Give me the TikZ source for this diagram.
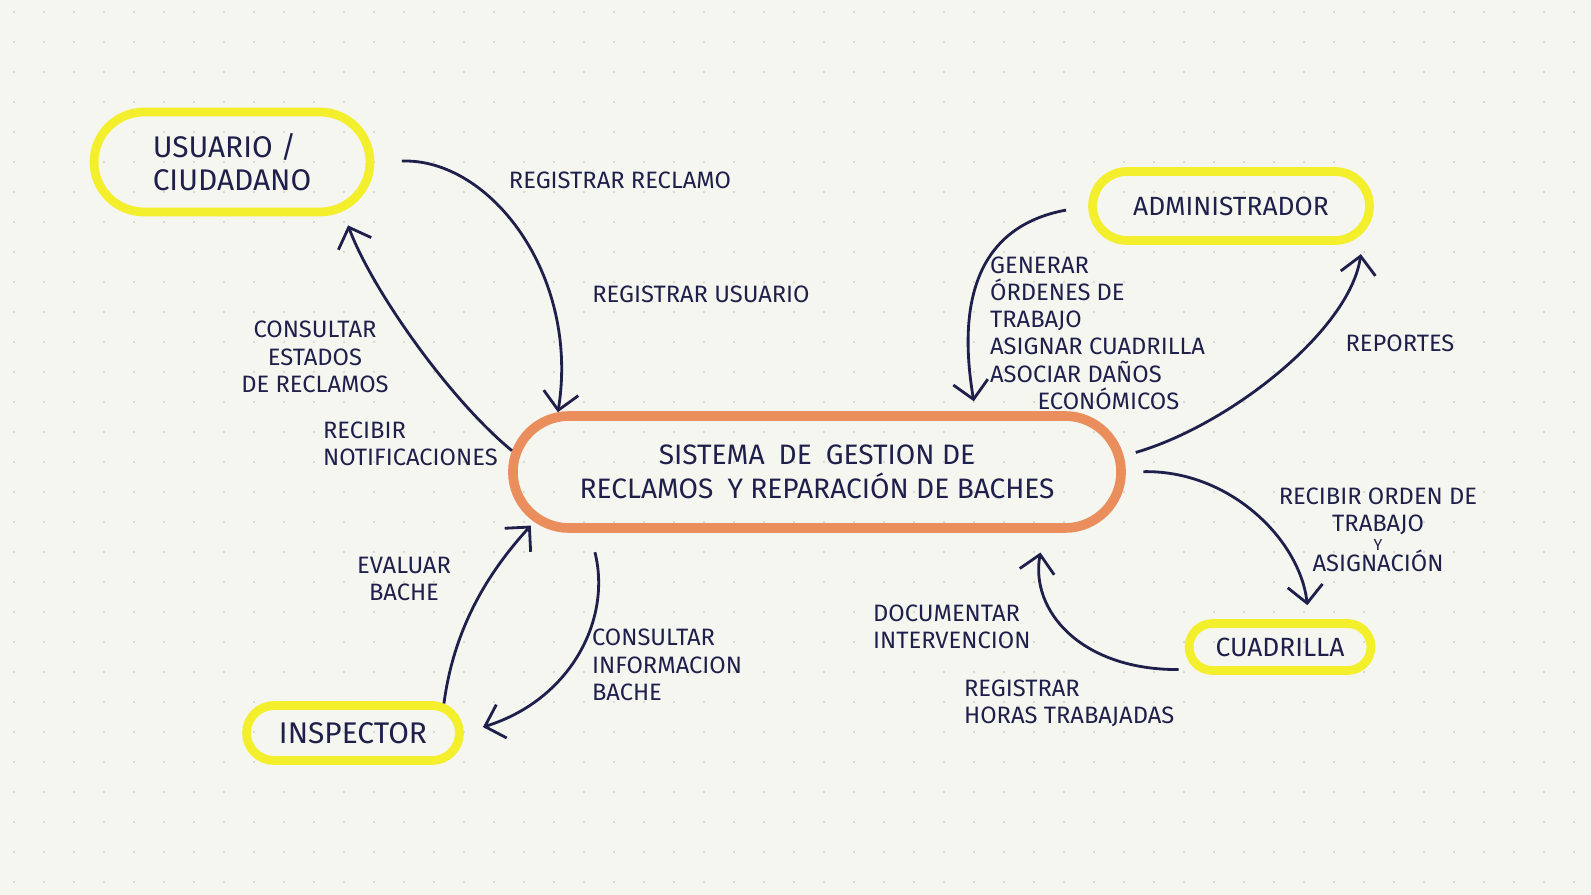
\documentclass[tikz,border=0pt]{standalone}
\usepackage{fontspec}
\setmainfont{Fira Sans}
\usetikzlibrary{arrows.meta,shapes.misc}
\definecolor{ink}{HTML}{1E1F4B}
\definecolor{hl}{HTML}{F3EF2C}
\definecolor{sysc}{HTML}{E98E5C}
\definecolor{paper}{HTML}{F6F6F0}
\definecolor{speck}{HTML}{D2D1C8}
\begin{document}
\begin{tikzpicture}[x=0.02cm,y=-0.02cm,>={Straight Barb[length=3.5mm,width=7mm]},
  every node/.style={font=\fontsize{13.5}{15.5}\selectfont,text=ink},
  actor/.style={draw=hl,line width=5pt,rounded rectangle,align=left,inner sep=4pt},
  sys/.style={draw=sysc,line width=5.5pt,rounded rectangle,align=center,font=\fontsize{16}{19}\selectfont},
  flow/.style={draw=ink,line width=1.6pt,->},
  lbl/.style={align=left,inner sep=1pt}]
\useasboundingbox (0,0) rectangle (1591,895);
\fill[paper] (0,0) rectangle (1591,895);
% dot grid of the notebook page
\foreach \i in {0,...,52}
  \foreach \j in {0,...,29}
    \fill[speck] (\i*30+14,\j*30+12) circle (0.7pt);

% actors and system
\node[actor,minimum width=5.8cm,minimum height=2cm,font=\fontsize{17}{19}\selectfont] (usr) at (232,162) {USUARIO /\\CIUDADANO};
\node[actor,minimum width=5.82cm,minimum height=1.38cm,font=\fontsize{15}{18}\selectfont] (adm) at (1231,206) {ADMINISTRADOR};
\node[sys,minimum width=12.4cm,minimum height=2.24cm] (sis) at (817,472) {SISTEMA\enspace DE\enspace GESTION DE\\RECLAMOS\enspace Y REPARACIÓN DE BACHES};
\node[actor,minimum width=4.54cm,minimum height=1.1cm,font=\fontsize{17}{19}\selectfont] (ins) at (353,733) {INSPECTOR};
\node[actor,minimum width=3.92cm,minimum height=0.94cm,font=\fontsize{15}{18}\selectfont] (cua) at (1280,647) {CUADRILLA};

% labels
\node[lbl] (l1) at (620,180) {REGISTRAR RECLAMO};
\node[lbl] (l2) at (701,294) {REGISTRAR USUARIO};
\node[lbl,align=center] (l3) at (315,357) {CONSULTAR\\ESTADOS\\DE RECLAMOS};
\node[lbl,anchor=west] (l4) at (321,444) {RECIBIR\\NOTIFICACIONES};
\node[lbl,anchor=west] (l5) at (988,333) {GENERAR\\ÓRDENES DE\\TRABAJO\\ASIGNAR CUADRILLA\\ASOCIAR DAÑOS\\\hspace*{2em}ECONÓMICOS};
\node[lbl] (l6) at (1400,343) {REPORTES};
\node[lbl,align=center] (l7) at (1378,530) {RECIBIR ORDEN DE\\TRABAJO\\[-5pt]{\fontsize{9}{9}\selectfont Y}\\[-3pt]ASIGNACIÓN};
\node[lbl,anchor=west] (l8) at (871,627) {DOCUMENTAR\\INTERVENCION};
\node[lbl,anchor=west] (l9) at (962,703) {REGISTRAR\\HORAS TRABAJADAS};
\node[lbl,align=center] (l10) at (404,579) {EVALUAR\\BACHE};
\node[lbl,anchor=west] (l11) at (590,665) {CONSULTAR\\INFORMACION\\BACHE};

% flows
\draw[flow,shorten <=0.55cm] (usr.east) .. controls (490,158) and (580,275) .. (sis.167);
\draw[flow,shorten >=0.3cm] (sis.176) .. controls (450,400) and (372,290) .. (usr.-24);
\draw[flow,shorten <=0.45cm,shorten >=0.2cm] (adm.west) .. controls (985,225) and (955,290) .. (sis.21);
\draw[flow,shorten <=0.25cm,shorten >=0.45cm] (sis.3) .. controls (1230,425) and (1350,330) .. (adm.-11);
\draw[flow,shorten <=0.35cm,shorten >=0.28cm] (sis.east) .. controls (1230,470) and (1300,540) .. (cua.44);
\draw[flow,shorten <=0.35cm,shorten >=0.4cm] (cua.195) .. controls (1080,670) and (1030,610) .. (sis.-15);
\draw[flow,shorten >=0.1cm] (ins.18) .. controls (455,620) and (495,565) .. (sis.190);
\draw[flow,shorten <=0.4cm,shorten >=0.4cm] (sis.195) .. controls (612,620) and (570,700) .. (ins.east);
\end{tikzpicture}
\end{document}
